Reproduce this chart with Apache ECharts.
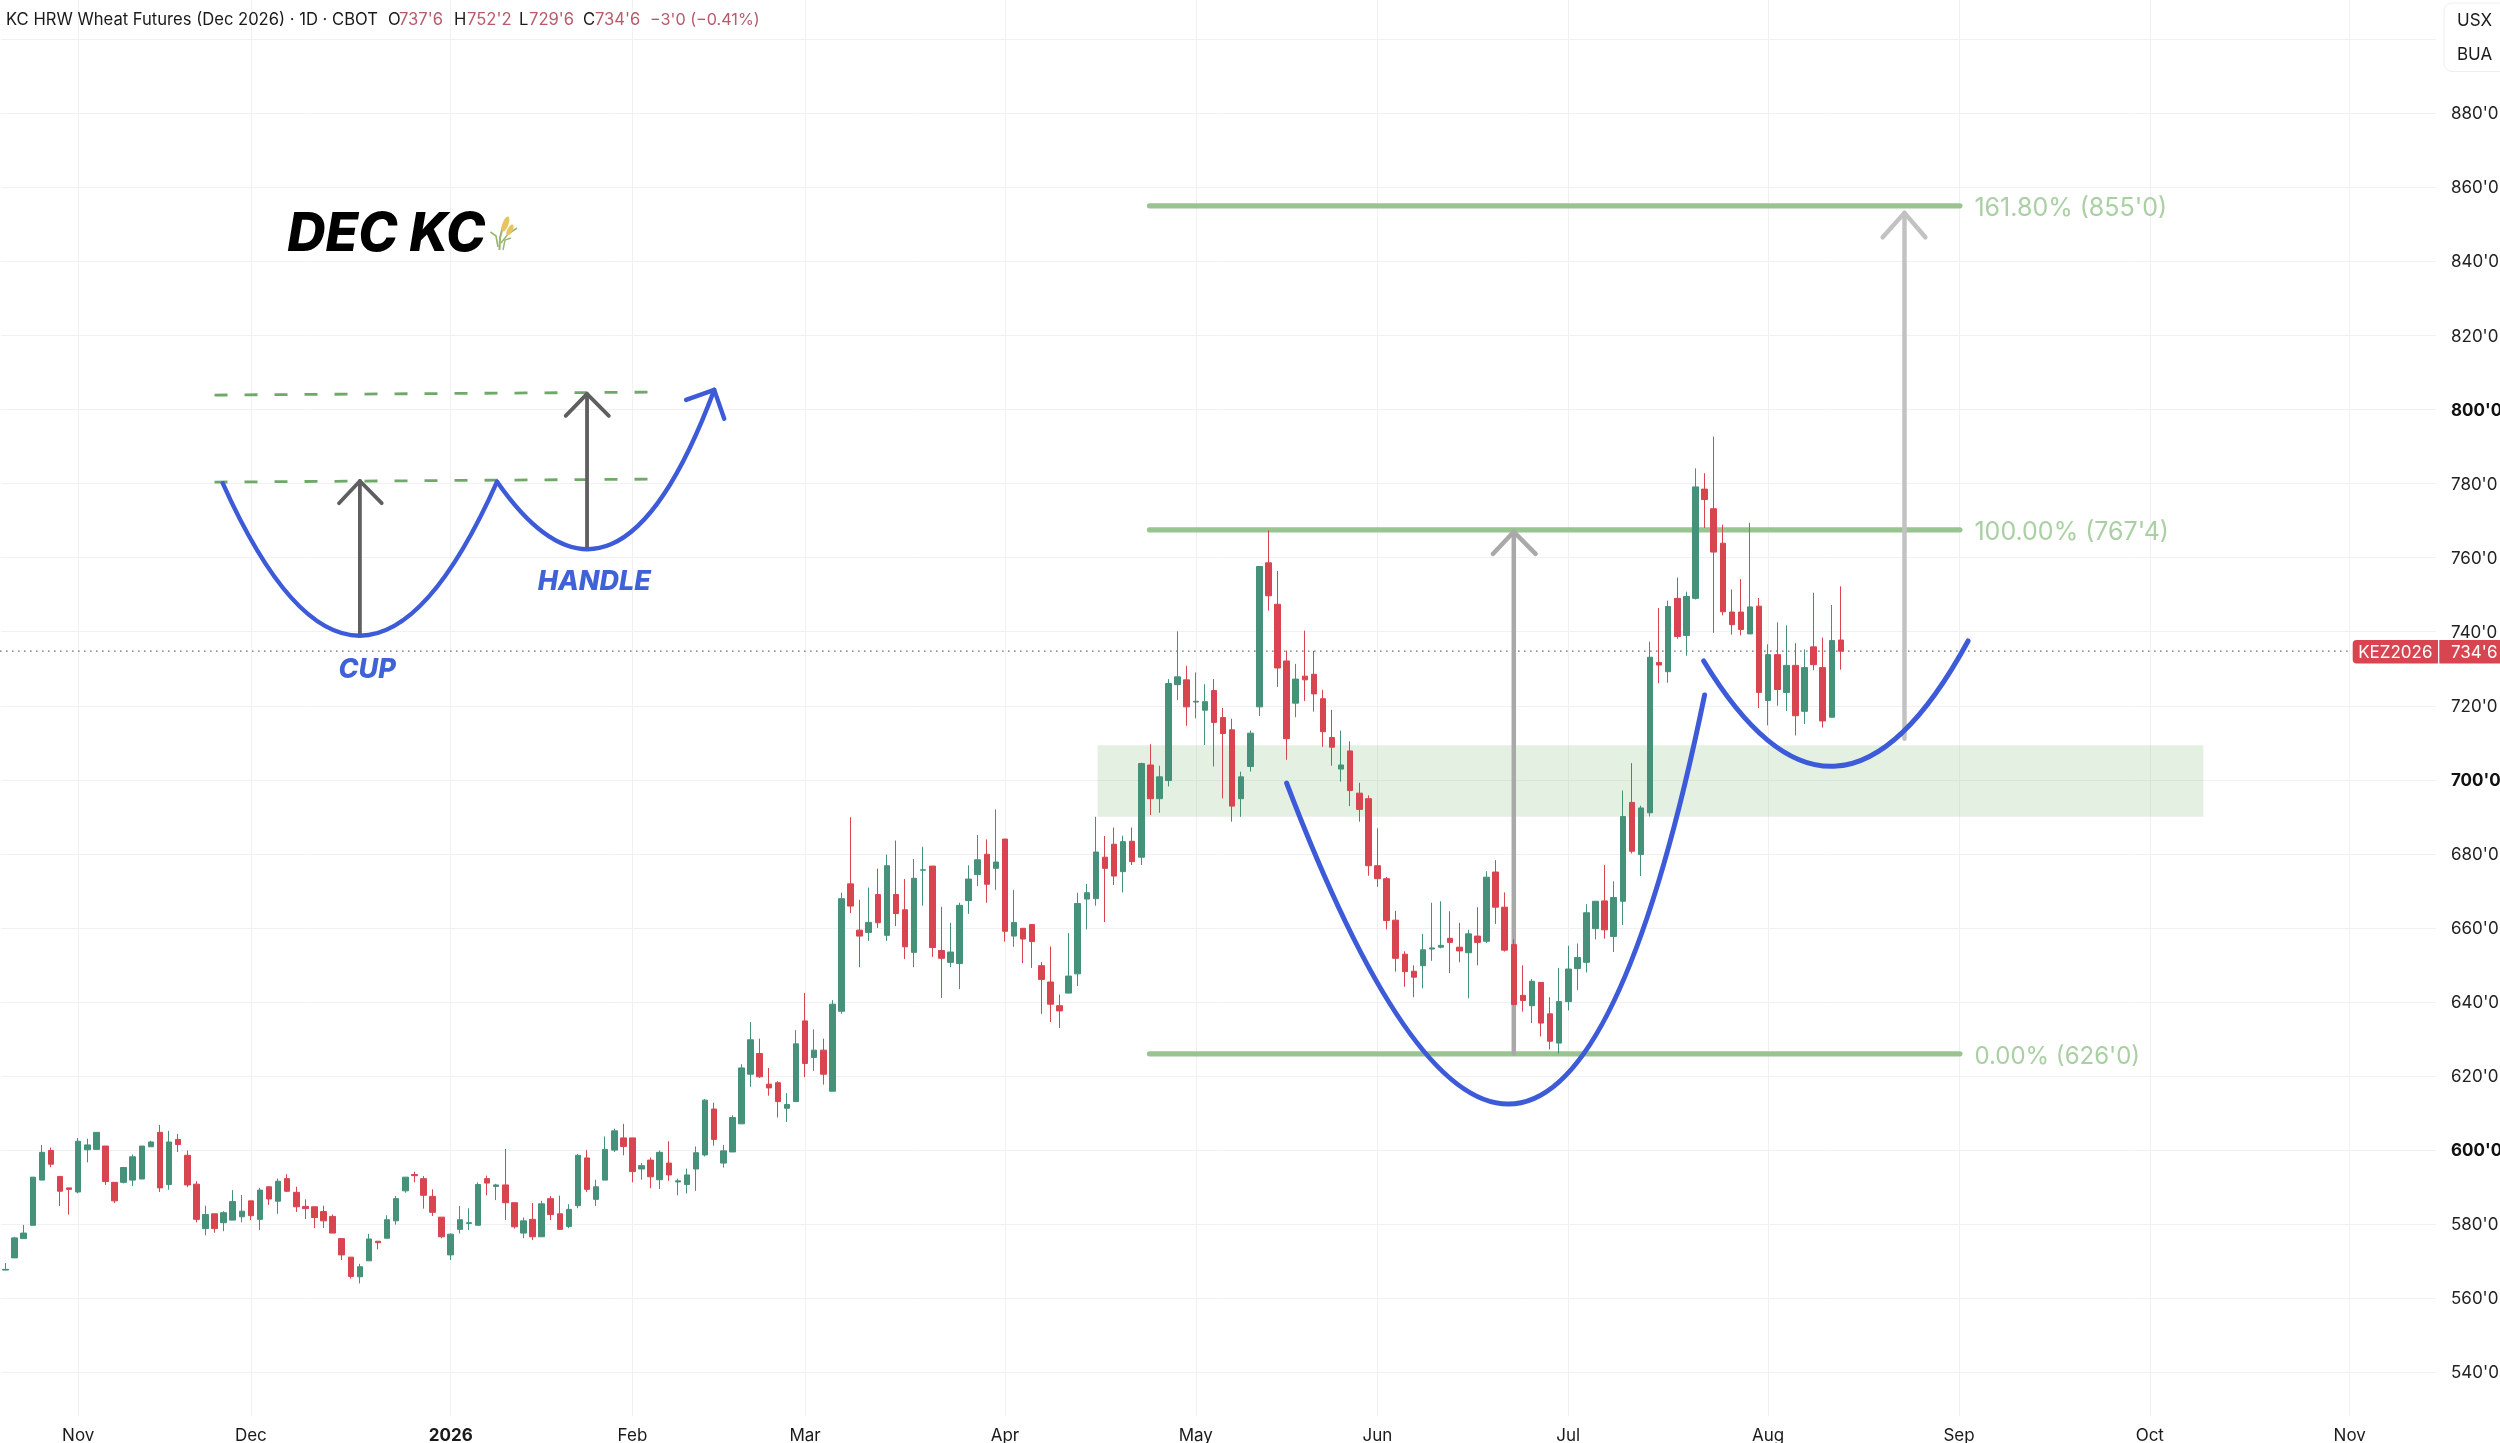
<!DOCTYPE html>
<html>
<head>
<meta charset="utf-8">
<style>html,body{margin:0;padding:0;background:#fff}#c{width:2500px;height:1443px}</style>
<script src="https://cdn.jsdelivr.net/npm/echarts@6/dist/echarts.min.js"></script>
</head>
<body>
<div id="c"></div>
<script>
// ---- Daily bars (index 0 = first visible session) ----
const opens = [
567.6,570.9,576.1,579.7,591.9,599.9,592.9,589.8,588.7,600.1,600.2,601.1,591.3,591.3,591.9,592.2,600.9,604.8,590.7,602.9,
598.6,590.8,578.8,582.8,580.4,581.1,582,586.3,581.3,590.1,586.2,592.3,588.6,584.8,584.7,583.4,582.1,576.1,571.1,565.8,
570.1,575.4,576.2,580.9,589,593.4,592.3,587.5,581.9,571.7,578.6,580.2,579.7,592.3,590.2,590.6,585.8,577.6,581.3,576.6,
586.9,582.8,579.4,585,597.9,586.7,591.9,600,
603.3,603.3,594.9,597.3,592,596.5,591.4,590.7,594.9,598.7,611.1,596.5,599.5,607.1,620.5,626.1,617.8,618.2,611.3,613.1,
634.9,625,627,615.9,637.5,671.9,659.4,658.8,669,658,669,664.9,653.4,675.6,676.7,653.9,650.7,650.4,667.4,674.4,679.9,
676.1,684,657.8,659.9,660.9,649.8,645.4,639,642.4,647.6,667.8,667.9,679.1,
682.6,675.2,683.4,679.1,704,694.9,699.8,725.7,727,721,718.8,724.1,716.8,713.5,694.9,703.6,719.7,758.6,747.4,732.1,
720.7,728,728.5,721.9,711.4,702.9,707.8,696.4,694.9,676.8,673.3,662.1,652.9,648.3,649.8,654.3,654.8,657.2,654.8,653.3,
657.8,656.4,675.1,665.6,655.5,641.8,639,645.3,636.8,628.9,640.1,649,650.7,659.8,667.3,657.7,667.2,693.9,679.8,691.1,
731.7,729.2,749,739,749,778.5,773.2,763.9,745.3,745.3,739.4,746.9,721.4,733.8,723.6,730.9,718.5,735.9,730.3,716.9,737.75];
const closes = [
567.8,576.3,577.6,592.7,599.4,596.2,588.9,589.4,602.4,601.4,604.8,591.5,586.3,595.3,598.2,601.1,602.2,589.8,602.2,601.5,
590.6,581.3,582.6,578.8,583.1,586.1,583.5,582.3,589.2,586.8,591.6,588.9,584.7,584.2,581.8,580.9,577.6,571.7,565.9,568.5,
576,575,581.2,586.9,592.7,593.1,587.8,583.2,576.6,577.3,581.2,580.4,590.7,591.1,590.6,585.8,579.3,580.9,576.6,585.5,
582.6,578.6,584,598.6,589.4,590.1,600.2,605.2,
601,594.2,595.8,592.8,599.4,593.3,591.7,593.3,599.3,613.5,602.9,599.8,608.8,622.2,629.8,619.8,616.8,613.1,612.3,628.7,
623.4,627,620.5,639.4,667.9,665.9,657.8,661.5,661.4,676.8,663.9,654.9,673.4,675.7,654.7,651.8,653.5,666.1,673.2,678.4,
671.8,677.8,659.1,661.5,657,656.3,646.1,639.4,637.6,647,666.6,669.5,680.5,676.1,
674,683.3,677.9,704.4,694.9,700.8,726,727.8,719.7,721.2,721.1,715.5,712.5,692.9,700.8,712.6,757.6,749.7,730.2,711.1,
727.2,727,723.2,713,708.8,704,697.1,692,676.8,673.3,662,651.8,648.2,646.7,654.1,654.6,655.3,656.1,653.8,658.4,
656.1,673.7,665.6,654,639.3,640.4,645.6,634.3,629.4,640.1,648.9,652,664.1,667.2,659.5,668.2,690.1,680.7,692.4,733.1,
731,746.8,738.7,749.5,779.1,775.7,761.5,745.4,741.9,740.6,746.7,723.6,733.8,724.4,730.9,717.3,730.3,731.1,715.9,737.6,734.75];
const lows = [
567.6,570.9,576.1,579.7,591.9,595.4,584.9,582.6,588.3,596.7,600.2,590.6,585.7,591,590.3,592.2,600.9,588.7,589.3,599.5,
590,580.5,577,577.7,578.1,581.1,580.5,581.1,578.4,585.2,582.8,588.7,583.3,581.4,579,579,577.6,570.3,565.3,564,
570.1,573.2,576.2,579.9,588.5,591.3,584.2,582.2,576.2,570.3,577.5,578.4,579.7,587.8,586.5,581.1,578.8,576.2,575.7,576.6,
581.1,578.5,578.9,584.3,588.7,584.9,591.9,599.5,
598.6,591.3,592,589.7,589.5,591.7,587.8,588.3,589,598.3,601.2,595.3,599.5,607.1,617.1,619.5,614.7,608.8,607.6,613.1,
619.7,621.4,617.7,615.9,636.8,664,649.4,656.5,660,656.5,660.5,651.6,649.4,666,652.2,641.1,649.4,643.5,663.8,671.3,
666.8,670.3,656.3,654.9,650.5,649.2,636.8,634.6,633,642.4,644.3,659.6,666,661.6,
671.6,669.6,677,677,690.5,691.1,698.2,721.5,714.6,716.6,709.4,703.6,695,688.7,690,702.2,717.2,745.7,725.1,705.4,
716.9,721.3,718.4,708.9,703.8,699.5,692.9,688.7,674.1,671.1,659.6,648.2,644.1,641.3,643.7,651.1,654.5,647.8,650.7,641,
649.9,655.9,661.1,653.6,639.3,637.4,634.3,630.7,627.2,626.1,637.7,643.2,648,656.9,657.1,653.5,660.8,680.1,674,690.1,
726.1,726.2,738.1,733.5,748.7,768,739.7,744.4,739.2,739,739.4,719.4,714.7,720,718.6,712,715.1,729.6,714.1,716.9,729.75];
const highs = [
569.5,576.6,579.8,592.7,601.4,600.7,592.9,589.8,603.3,603.1,604.8,601.1,591.3,595.3,598.8,601.1,602.5,606.8,605.2,604.4,
599.9,591.6,585,582.8,583.5,589.2,587.9,586.3,589.8,590.1,592.3,593.5,590.1,586.7,584.7,585,582.6,576.1,571.1,569.3,
577.4,575.4,582.4,587.6,592.7,594.2,593,589.4,581.9,577.5,584.9,584.3,591.3,593.1,590.9,600.3,585.8,581.8,585.7,586.3,
587.6,587.7,585.4,598.9,600,592,603.7,605.8,
607.1,603.3,596.5,598,599.9,602.4,592.3,595,601,613.8,612.8,601.4,609.4,623.2,634.6,630.1,622.2,618.6,615.4,632.4,
642.4,632.6,630.1,640.5,669.5,689.9,667.6,670.9,676,679.8,683.6,673.2,678.6,681.9,676.7,665.7,661.4,666.8,676.9,685.1,
683.9,692,684,670.3,659.9,660.9,650.8,655,642,658.6,669.5,671.9,690,684.8,
687.1,684.9,687.1,704.6,709.6,703.8,727.2,740.1,730.8,729,725.8,727.2,719.4,716.5,702.2,713.3,757.6,767.4,756.4,734.9,
731.3,740.3,734.8,724.3,718.9,713.3,710.4,699.2,695.8,686.9,673.8,664.6,653.7,649.9,658.4,666.8,667.2,664.5,661.4,659.5,
665.6,675.3,678.3,669.6,656.9,649.9,646.2,645.3,641.3,649.2,655.2,655.8,666.4,667.2,677,672.6,697.1,704.5,693,737.3,
746.4,748.4,754.6,750.8,784.1,782.8,792.7,768.9,751.4,754.2,769.4,749.1,736.6,742.5,741.7,736.9,735.2,750.5,738.4,747.2,752.25];

// ---- Time axis: session slots, with month ticks at slot indices ----
const sessionSlots = 268;
const monthIdx    = [8,27,49,69,88,110,131,151,172,194,215,236,258];
const monthLabels = ['Nov','Dec','2026','Feb','Mar','Apr','May','Jun','Jul','Aug','Sep','Oct','Nov'];

// ---- Price axis ----
const boldPrices = [600,700,800];
const hiddenPrices = [900];

// ---- Levels ----
const lastPrice = 734.75;
const fibStart = 125.9, fibEnd = 215.1, fibLabelAt = 216.7;
const fibLevels = [855, 767.5, 626];
const fibTexts  = ["161.80% (855'0)", "100.00% (767'4)", "0.00% (626'0)"];
const zoneX = [120.2, 241.9], zoneY = [690, 709.3];

// ---- Hand-drawn annotations: curves are [start, control, end], in [session index, price] ----
const bigCup = [[141,699.1],[169.6,514.6],[187,722.9]];
const bigHandle = [[186.9,732.1],[201.6,672.6],[216,737.5]];
const sketchCup = [[23.9,780.1],[39,697.5],[54.1,780.5]];
const sketchHandle = [[54.1,780.5],[67.2,734.3],[78,805.3]];
const arrowA = [[166,626],[166,767]];
const arrowAHead = [[163.7,761],[166,767],[168.4,761]];
const arrowB = [[209,711.1],[209,853.1]];
const arrowBHead = [[206.6,846.5],[209,853.1],[211.3,846.5]];
const sketchHead = [[74.9,802.6],[78,805.3],[79.1,797.5]];
const sketchDashHigh = [[23,803.9],[71.3,804.7]];
const sketchDashLow = [[23,780.4],[71.3,781.2]];
const sketchArrowA = [[39,739.1],[39,780.7]];
const sketchArrowAHead = [[36.7,774.7],[39,780.7],[41.4,774.7]];
const sketchArrowB = [[64,762.3],[64,804.2]];
const sketchArrowBHead = [[61.65,798.3],[64,804.2],[66.4,798.3]];
const textMarks = [
  {at:[31,847.0],  text:'DEC KC', size:53, color:'#000000', pos:'right', weight:800},
  {at:[39.8,729.8],text:'CUP',    size:27, color:'#3f62d6', pos:'inside', weight:800},
  {at:[64.8,753.5],text:'HANDLE', size:27, color:'#3f62d6', pos:'inside', weight:800}
];

const BLUE='#3d5bd9', FIB='#98c490', FIBTXT='#a9d0a2';
const FONT='Inter, "Liberation Sans", sans-serif';

function poly(data, color, width, z, extra){
  return Object.assign({type:'line', xAxisIndex:2, yAxisIndex:0, data, showSymbol:false, symbol:'none', silent:true,
    z:z, lineStyle:{color, width, cap:'round', join:'round'}}, extra||{});
}
function curve(pts, color, width, z){
  return {type:'custom', xAxisIndex:2, yAxisIndex:0, silent:true, z:z, clip:false, data:[pts[0]],
    renderItem:(params,api)=>{
      const a=api.coord(pts[0]), c=api.coord(pts[1]), b=api.coord(pts[2]);
      return {type:'bezierCurve', shape:{x1:a[0],y1:a[1],x2:b[0],y2:b[1],cpx1:c[0],cpy1:c[1]},
        style:{stroke:color,lineWidth:width,fill:null,lineCap:'round'}};
    }};
}
const series = [
  {type:'candlestick', xAxisIndex:0, yAxisIndex:0, z:5, barWidth:6, silent:true,
   data: opens.map((o,i)=>[o,closes[i],lows[i],highs[i]]),
   itemStyle:{color:'#45917a', color0:'#d8444f', borderColor:'#45917a', borderColor0:'#d8444f', borderWidth:1}},
  poly([[zoneX[0],zoneY[0]],[zoneX[1],zoneY[0]]],'rgba(0,0,0,0)',0,1,{
    markArea:{silent:true, itemStyle:{color:'rgba(122,184,110,0.2)'},
      data:[[{xAxis:zoneX[0],yAxis:zoneY[1]},{xAxis:zoneX[1],yAxis:zoneY[0]}]]}}),
  poly([[-0.6,lastPrice],[258.2,lastPrice]],'#666',1.2,2,{lineStyle:{color:'#666',width:1.2,type:[1.5,4.5]}})
];
fibLevels.forEach((v,i)=>{
  series.push(poly([[fibStart,v],[fibEnd,v]],FIB,5.2,3));
  series.push({type:'scatter',xAxisIndex:2,yAxisIndex:0,symbolSize:0,silent:true,z:8,data:[[fibLabelAt,v]],itemStyle:{opacity:1},
    label:{show:true,position:'right',distance:0,offset:[0,2.5],formatter:fibTexts[i],color:FIBTXT,fontFamily:FONT,fontSize:i===2?24:25}});
});
series.push(
  poly(arrowA,'#a9a9a9',4.5,4), poly(arrowAHead,'#a9a9a9',4.5,4),
  poly(arrowB,'#c2c2c2',4.5,4), poly(arrowBHead,'#c2c2c2',4.5,4),
  curve(bigCup,BLUE,5,6), curve(bigHandle,BLUE,5,6),
  poly(sketchDashHigh,'#6fa868',2.8,3,{lineStyle:{color:'#6fa868',width:2.8,type:[13,17]}}),
  poly(sketchDashLow,'#6fa868',2.8,3,{lineStyle:{color:'#6fa868',width:2.8,type:[13,17]}}),
  poly(sketchArrowA,'#5f5f5f',3.8,4), poly(sketchArrowAHead,'#5f5f5f',3.8,4),
  poly(sketchArrowB,'#5f5f5f',3.8,4), poly(sketchArrowBHead,'#5f5f5f',3.8,4),
  curve(sketchCup,BLUE,4.4,6), curve(sketchHandle,BLUE,4.4,6), poly(sketchHead,BLUE,4.4,6)
);
textMarks.forEach(t=>{
  series.push({type:'scatter',xAxisIndex:2,yAxisIndex:0,symbolSize:0,silent:true,z:9,data:[t.at],itemStyle:{opacity:1},
    label:{show:true,position:t.pos,distance:0,formatter:t.text,color:t.color,fontFamily:FONT,fontSize:t.size,fontWeight:t.weight,fontStyle:'italic'}});
});
// gives the month grid's axes something to lay out
series.push({type:'line',xAxisIndex:1,yAxisIndex:1,data:[],silent:true});

const isMonth = i => monthIdx.indexOf(+i) >= 0;
const slots = Array.from({length:sessionSlots},(_,i)=>String(i));

function head(x,text,fill,size){
  return {type:'text',z:20,style:{x,y:20,text,fill,font:(size||16.6)+'px '+FONT,verticalAlign:'middle',align:'left'}};
}
const HRED='#b85a6b', HINK='#1a1a1a';
const graphics = [
  head(6,'KC HRW Wheat Futures (Dec 2026) · 1D · CBOT',HINK),
  head(388,'O',HINK), head(399,"737'6",HRED),
  head(454,'H',HINK), head(467,"752'2",HRED),
  head(519,'L',HINK), head(529,"729'6",HRED),
  head(583,'C',HINK), head(595,"734'6",HRED),
  head(650,"−3'0 (−0.41%)",HRED,16.2),
  {type:'rect',z:20,shape:{x:2444,y:3,width:70,height:68.5,r:8},style:{fill:'#fff',stroke:'#eeeeee',lineWidth:1}},
  {type:'text',z:21,style:{x:2457,y:20.5,text:'USX',fill:HINK,font:'17px '+FONT,verticalAlign:'middle'}},
  {type:'text',z:21,style:{x:2457,y:54.5,text:'BUA',fill:HINK,font:'17px '+FONT,verticalAlign:'middle'}},
  {type:'rect',z:20,shape:{x:2352.7,y:640,width:85.3,height:23.4,r:[4,0,0,4]},style:{fill:'#d8444f'}},
  {type:'rect',z:20,shape:{x:2439.3,y:640,width:61,height:23.4,r:0},style:{fill:'#d8444f'}},
  {type:'text',z:21,style:{x:2395.3,y:652.5,text:'KEZ2026',fill:'#fff',font:'17px '+FONT,align:'center',verticalAlign:'middle'}},
  {type:'text',z:21,style:{x:2451,y:652.5,text:"734'6",fill:'#fff',font:'17px '+FONT,align:'left',verticalAlign:'middle'}},
  // wheat-sheaf glyph beside the title
  {type:'polyline',z:21,shape:{points:[[499.5,250],[500,238],[503,226],[508,218]]},style:{stroke:'#9ab56f',lineWidth:2,fill:'none'}},
  {type:'polyline',z:21,shape:{points:[[498,247],[496,236],[490.5,232]]},style:{stroke:'#9ab56f',lineWidth:1.6,fill:'none'}},
  {type:'polyline',z:21,shape:{points:[[501,243],[508,234],[517,228]]},style:{stroke:'#9ab56f',lineWidth:1.6,fill:'none'}},
  {type:'polyline',z:21,shape:{points:[[503,250],[505,240],[511,238]]},style:{stroke:'#9ab56f',lineWidth:1.4,fill:'none'}},
  {type:'ellipse',z:22,shape:{cx:505.5,cy:224,rx:3,ry:8},rotation:-0.35,originX:505.5,originY:224,style:{fill:'#e6c560'}},
  {type:'ellipse',z:22,shape:{cx:510,cy:230,rx:2.6,ry:6},rotation:-0.5,originX:510,originY:230,style:{fill:'#e6c560'}}
];

const chart = echarts.init(document.getElementById('c'),null,{renderer:'canvas',width:2500,height:1443});
chart.setOption({
  animation:false, backgroundColor:'#fff',
  grid:[
    {left:1,width:2435,top:39.2,height:1333.1,containLabel:false,outerBoundsMode:'none'},
    {left:1,width:2435,top:0,height:1416,containLabel:false,outerBoundsMode:'none'}
  ],
  xAxis:[
    {type:'category',gridIndex:0,data:slots,show:false,boundaryGap:true},
    {type:'category',gridIndex:1,data:slots,boundaryGap:true,
      axisLine:{show:false},axisTick:{show:false,alignWithLabel:true,interval:(i)=>isMonth(i)},
      splitLine:{show:true,alignWithLabel:true,interval:(i)=>isMonth(i),lineStyle:{color:'#f1f1f3',width:1}},
      axisLabel:{interval:(i)=>isMonth(i),margin:11,hideOverlap:false,color:'#1a1a1a',fontFamily:FONT,fontSize:17,
        formatter:(v)=>{const k=monthIdx.indexOf(+v);const s=monthLabels[k];return s==='2026'?'{b|'+s+'}':s;},
        rich:{b:{fontWeight:700,fontFamily:FONT,fontSize:17,color:'#1a1a1a'}}}},
    {type:'value',gridIndex:0,show:false,min:-0.5,max:sessionSlots-0.5,splitLine:{show:false}}
  ],
  yAxis:[
    {type:'value',gridIndex:0,position:'right',min:540,max:900,interval:20,scale:true,
      axisLine:{show:false},axisTick:{show:false},
      splitLine:{show:true,lineStyle:{color:'#f1f1f3',width:1}},
      axisLabel:{margin:15,color:'#222',fontFamily:FONT,fontSize:17,padding:[2,0,0,0],
        formatter:(v)=>hiddenPrices.indexOf(v)>=0?'':(boldPrices.indexOf(v)>=0?'{b|'+v+"'0}":v+"'0"),
        rich:{b:{fontWeight:700,fontFamily:FONT,fontSize:17,color:'#111'}}}},
    {type:'value',gridIndex:1,show:false,min:0,max:1,splitLine:{show:false}}
  ],
  series,
  graphic:{elements:graphics}
});
</script>
</body>
</html>
